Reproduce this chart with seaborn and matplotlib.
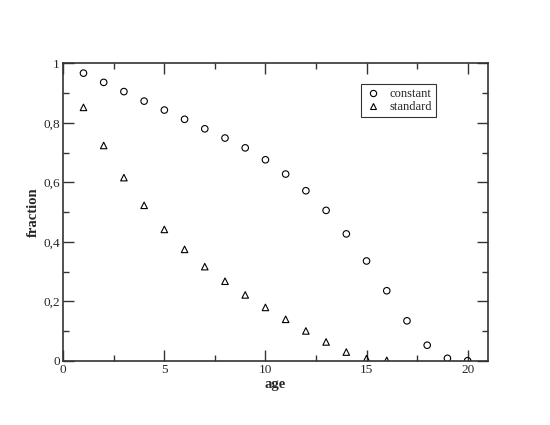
import numpy as np
import pandas as pd
import seaborn as sns
import matplotlib
matplotlib.use("Agg")
import matplotlib.pyplot as plt
from matplotlib.ticker import MultipleLocator, FuncFormatter

# Values
age_constant = list(range(1, 21))
frac_constant = [0.967, 0.936, 0.905, 0.873, 0.843, 0.812, 0.780, 0.749, 0.716, 0.676,
                 0.628, 0.572, 0.506, 0.427, 0.336, 0.236, 0.135, 0.053, 0.009, 0.001]
age_standard = list(range(1, 17))
frac_standard = [0.852, 0.724, 0.616, 0.523, 0.442, 0.375, 0.317, 0.268, 0.222, 0.180,
                 0.140, 0.101, 0.064, 0.030, 0.008, 0.002]
series_names = ["constant", "standard"]

df = pd.concat([
    pd.DataFrame({"age": age_constant, "fraction": frac_constant, "model": series_names[0]}),
    pd.DataFrame({"age": age_standard, "fraction": frac_standard, "model": series_names[1]}),
])

sns.set_style("ticks")
plt.rcParams["font.family"] = ["Liberation Serif", "DejaVu Serif"]

fig = plt.figure(figsize=(5.5, 4.25), dpi=100)
ax = fig.add_axes([0.115, 0.1506, 0.772, 0.7004])

sns.scatterplot(
    data=df, x="age", y="fraction", style="model",
    markers={"constant": "o", "standard": "^"},
    facecolor="none", edgecolor="black", linewidth=0.8, s=22,
    ax=ax, legend=False,
)

# Legend by hand, since seaborn draws filled markers in its legend
handles = [
    plt.Line2D([], [], ls="none", marker="o", ms=4.5, mfc="none", mec="black", mew=0.8),
    plt.Line2D([], [], ls="none", marker="^", ms=4.5, mfc="none", mec="black", mew=0.8),
]
leg = ax.legend(handles, series_names, loc="upper left", bbox_to_anchor=(0.701, 0.929),
                frameon=True, fancybox=False, fontsize=9, handlelength=1.4,
                handletextpad=0.6, borderpad=0.3, labelspacing=0.1, borderaxespad=0)
leg.get_frame().set_edgecolor("black")
leg.get_frame().set_linewidth(0.8)

ax.set_xlim(0, 21)
ax.set_ylim(0, 1)
ax.xaxis.set_major_locator(MultipleLocator(5))
ax.xaxis.set_minor_locator(MultipleLocator(2.5))
ax.yaxis.set_major_locator(MultipleLocator(0.2))
ax.yaxis.set_minor_locator(MultipleLocator(0.1))


def comma_fmt(v, pos):
    s = "%g" % round(v, 3)
    return s.replace(".", ",")


ax.xaxis.set_major_formatter(FuncFormatter(comma_fmt))
ax.yaxis.set_major_formatter(FuncFormatter(comma_fmt))

ax.tick_params(which="both", direction="in", top=True, right=True, color="#333333",
               width=1.0, labelsize=9.5, pad=2.5)
ax.tick_params(which="major", length=8)
ax.tick_params(which="minor", length=4)
for sp in ax.spines.values():
    sp.set_visible(True)
    sp.set_linewidth(1.2)
    sp.set_color("#333333")

ax.set_xlabel("age", fontsize=10.5, fontweight="bold", labelpad=1)
ax.set_ylabel("fraction", fontsize=10.5, fontweight="bold", labelpad=2)

plt.savefig("out.png", dpi=100)
plt.close()
